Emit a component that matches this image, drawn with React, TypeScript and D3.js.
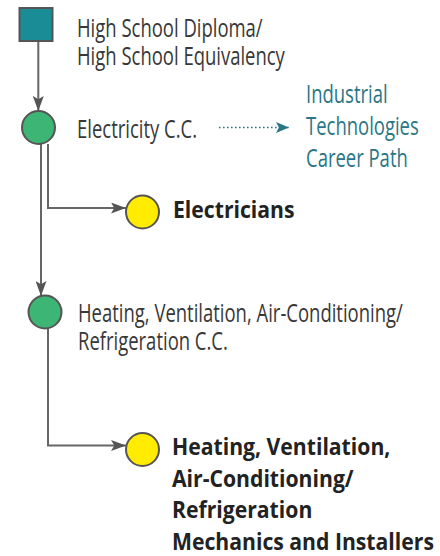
import React, { useEffect, useRef } from 'react';
import * as d3 from 'd3';

// career pathway nodes
const nodeIds = ['diploma', 'electricity', 'electricians', 'hvac', 'hvacJobs'];
const nodeKinds = ['start', 'program', 'job', 'program', 'job'];
const nodeLabels = [
    ['High School Diploma/', 'High School Equivalency'],
    ['Electricity C.C.'],
    ['Electricians'],
    ['Heating, Ventilation, Air-Conditioning/', 'Refrigeration C.C.'],
    ['Heating, Ventilation,', 'Air-Conditioning/', 'Refrigeration', 'Mechanics and Installers']
];
const linkSources = ['diploma', 'electricity', 'electricity', 'hvac'];
const linkTargets = ['electricity', 'electricians', 'hvac', 'hvacJobs'];
const relatedPath = ['Industrial', 'Technologies', 'Career Path'];

// layout of the diagram (pixels)
const layout: Record<string, { cx: number; cy: number; lx: number; ly: number }> = {
    diploma: { cx: 36, cy: 24.5, lx: 77, ly: 37 },
    electricity: { cx: 38.5, cy: 127.5, lx: 77, ly: 138 },
    electricians: { cx: 142.5, cy: 212, lx: 173, ly: 218 },
    hvac: { cx: 45, cy: 312, lx: 78, ly: 322 },
    hvacJobs: { cx: 142.5, cy: 449.5, lx: 172, ly: 455 }
};
const laneX = [38.3, 48, 41, 48];

const colors = {
    start: '#1a8c96',
    program: '#3db574',
    job: '#ffec00',
    stroke: '#555555',
    line: '#666666',
    text: '#383838',
    bold: '#222222',
    teal: '#2a7686'
};

const App = () => {
    const node = useRef<SVGSVGElement>(null);

    useEffect(() => {
        const width = 440,
            height = 556,
            r = 16.5,
            side = 33;

        const svg = d3.select(node.current);
        svg.selectAll('*').remove();
        svg.attr('width', width).attr('height', height);

        const defs = svg.append('defs');
        const marker = (id: string, fill: string, w: number, h: number) =>
            defs.append('marker')
                .attr('id', id)
                .attr('markerUnits', 'userSpaceOnUse')
                .attr('viewBox', `0 0 ${w} ${h}`)
                .attr('refX', w)
                .attr('refY', h / 2)
                .attr('markerWidth', w)
                .attr('markerHeight', h)
                .attr('orient', 'auto')
                .append('path')
                .attr('d', `M0,0L${w},${h / 2}L0,${h}L${w * 0.22},${h / 2}Z`)
                .attr('fill', fill);
        marker('arrow', colors.stroke, 15, 11);
        marker('arrowTeal', colors.teal, 13, 11);

        const line = d3.line<[number, number]>().x(d => d[0]).y(d => d[1]);

        // links
        const linkPoints = linkSources.map((s, i) => {
            const a = layout[s], b = layout[linkTargets[i]];
            const x = laneX[i];
            const startY = nodeKinds[nodeIds.indexOf(s)] === 'start' ? a.cy + side / 2 : a.cy + r;
            if (Math.abs(b.cx - a.cx) < 20) {
                return [[x, startY], [x, b.cy - Math.sqrt(r * r - (x - b.cx) ** 2)]] as [number, number][];
            }
            const elbowY = b.cy - 4;
            return [[x, startY], [x, elbowY], [b.cx - r, elbowY]] as [number, number][];
        });

        svg.append('g')
            .selectAll('path')
            .data(linkPoints)
            .enter()
            .append('path')
            .attr('d', d => line(d))
            .style('fill', 'none')
            .style('stroke', colors.line)
            .style('stroke-width', 2)
            .attr('marker-end', 'url(#arrow)');

        // nodes
        const nodes = nodeIds.map((id, i) => ({ id, kind: nodeKinds[i], labels: nodeLabels[i], ...layout[id] }));
        const g = svg.append('g');
        g.selectAll('rect')
            .data(nodes.filter(d => d.kind === 'start'))
            .enter()
            .append('rect')
            .attr('x', d => d.cx - side / 2)
            .attr('y', d => d.cy - side / 2)
            .attr('width', side)
            .attr('height', side)
            .style('fill', colors.start)
            .style('stroke', colors.stroke)
            .style('stroke-width', 2);
        g.selectAll('circle')
            .data(nodes.filter(d => d.kind !== 'start'))
            .enter()
            .append('circle')
            .attr('cx', d => d.cx)
            .attr('cy', d => d.cy)
            .attr('r', r)
            .style('fill', d => d.kind === 'job' ? colors.job : colors.program)
            .style('stroke', colors.stroke)
            .style('stroke-width', 2);

        // text blocks, squeezed horizontally to mimic a condensed face
        const block = (x: number, y: number, lines: string[], bold: boolean, fill: string, lead: number) => {
            const wrap = svg.append('g').attr('transform', `translate(${x},${y})`);
            const t = wrap.append('text')
                .style('font-family', "'Open Sans', sans-serif")
                .style('font-weight', bold ? 700 : 400)
                .style('font-size', bold ? '24px' : '25px')
                .style('fill', fill);
            t.selectAll('tspan')
                .data(lines)
                .enter()
                .append('tspan')
                .attr('x', 0)
                .attr('dy', (_, i) => i === 0 ? 0 : lead)
                .text(l => l);
            return { wrap, t };
        };

        const regular: ReturnType<typeof block>[] = [];
        const bolds: ReturnType<typeof block>[] = [];
        nodes.forEach(d => {
            const job = d.kind === 'job';
            const b = block(d.lx, d.ly, d.labels, job, job ? colors.bold : colors.text, job ? 31.7 : 28);
            (job ? bolds : regular).push(b);
        });
        regular.push(block(306, 103, relatedPath, false, colors.teal, 32));

        // target widths
        const squeeze = (items: ReturnType<typeof block>[], idx: number, lineIdx: number, target: number) => {
            const span = items[idx].t.selectAll<SVGTSpanElement, string>('tspan').nodes()[lineIdx];
            const k = target / span.getComputedTextLength();
            items.forEach(it => {
                const tr = it.wrap.attr('transform');
                it.wrap.attr('transform', `${tr} scale(${k},1)`);
            });
        };
        squeeze(regular, 2, 0, 325);
        squeeze(bolds, 1, 3, 262);

        // related career path
        const el = layout.electricity;
        svg.append('path')
            .attr('d', line([[219, el.cy], [289, el.cy]]))
            .style('fill', 'none')
            .style('stroke', colors.teal)
            .style('stroke-width', 1.6)
            .style('stroke-dasharray', '1.6,2.4')
            .attr('marker-end', 'url(#arrowTeal)');
    }, []);

    return <svg ref={node} style={{ position: 'absolute', left: 0, top: 0 }}></svg>;
};

export default App;
